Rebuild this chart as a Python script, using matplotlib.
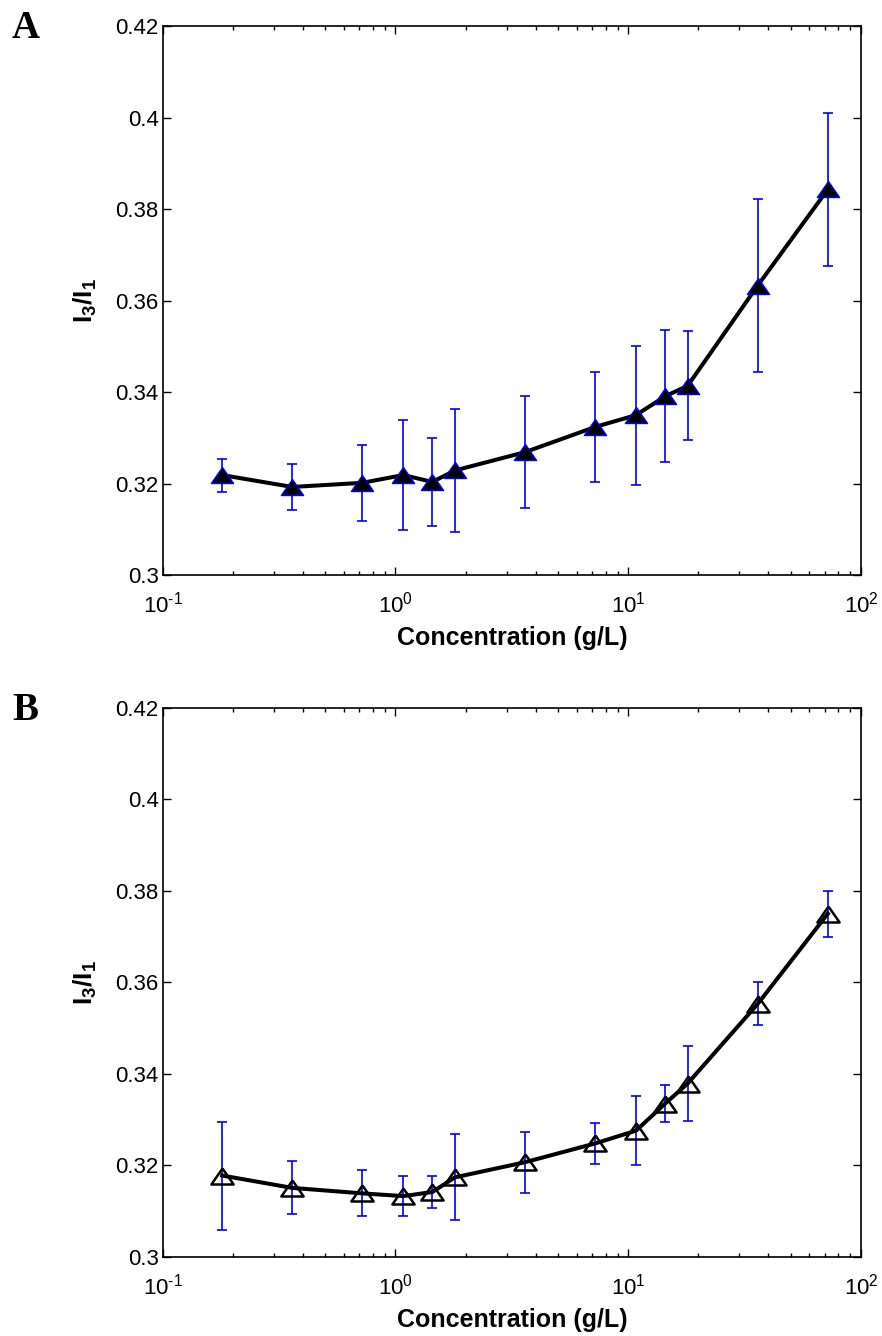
import math

import matplotlib
matplotlib.use("Agg")
import matplotlib.pyplot as plt
from matplotlib.ticker import LogLocator, NullFormatter, FuncFormatter

plt.rcParams["font.family"] = ["Liberation Sans", "DejaVu Sans"]
plt.rcParams["mathtext.fontset"] = "custom"
plt.rcParams["mathtext.rm"] = "Liberation Sans"
plt.rcParams["mathtext.bf"] = "Liberation Sans:bold"
plt.rcParams["axes.unicode_minus"] = False

# concentration (g/L)
conc = [0.18, 0.36, 0.72, 1.08, 1.44, 1.8, 3.6, 7.2, 10.8, 14.4, 18, 36, 72]

# panel A
ratio_a = [0.3219, 0.3193, 0.3202, 0.3219, 0.3204, 0.3229, 0.3269,
           0.3324, 0.3350, 0.3391, 0.3414, 0.3633, 0.3843]
err_a = [0.0036, 0.0050, 0.0083, 0.0121, 0.0097, 0.0134, 0.0123,
         0.0121, 0.0152, 0.0144, 0.0119, 0.0189, 0.0167]

# panel B
ratio_b = [0.3178, 0.3151, 0.3139, 0.3133, 0.3142, 0.3174, 0.3207,
           0.3248, 0.3276, 0.3335, 0.3379, 0.3553, 0.3750]
err_b = [0.0118, 0.0058, 0.0050, 0.0044, 0.0036, 0.0094, 0.0067,
         0.0044, 0.0075, 0.0040, 0.0081, 0.0047, 0.0050]

yticks = [0.30, 0.32, 0.34, 0.36, 0.38, 0.40, 0.42]
ytick_labels = ["0.3", "0.32", "0.34", "0.36", "0.38", "0.4", "0.42"]

W, H = 882, 1336
fig = plt.figure(figsize=(W / 100, H / 100), dpi=100)

left = 162.7 / W
width = (861 - 162.7) / W
ax_h = (575.3 - 26) / H
ax_a = fig.add_axes([left, 1 - 575.3 / H, width, ax_h])
ax_b = fig.add_axes([left, 1 - 1257 / H, width, ax_h])

# MATLAB-style triangle: wider than it is tall
TRI = [(0, 0.72), (-1, -0.72), (1, -0.72), (0, 0.72)]


def pow10(v, pos):
    p = round(math.log10(v))
    # plain hyphen in the exponent, like the original
    return r"$10^{%s}$" % (str(p).replace("-", "\u2010"))


def draw_panel(ax, y, e, face, edge, mew, letter, letter_y):
    ax.errorbar(conc, y, yerr=e, fmt="none", ecolor="#0000FF",
                elinewidth=1.2, capsize=3.8, capthick=1.2, zorder=2)
    ax.plot(conc, y, color="black", lw=2.9, zorder=3,
            solid_joinstyle="round")
    ax.plot(conc, y, linestyle="none", marker=TRI, markersize=16,
            markerfacecolor=face, markeredgecolor=edge,
            markeredgewidth=mew, zorder=4)

    ax.set_xscale("log")
    ax.set_xlim(0.1, 100)
    ax.set_ylim(0.3, 0.42)
    ax.set_yticks(yticks)
    ax.set_yticklabels(ytick_labels)
    ax.xaxis.set_major_locator(LogLocator(base=10, numticks=10))
    ax.xaxis.set_major_formatter(FuncFormatter(pow10))
    ax.xaxis.set_minor_locator(LogLocator(base=10, subs=range(2, 10), numticks=10))
    ax.xaxis.set_minor_formatter(NullFormatter())

    ax.tick_params(which="both", direction="in", top=True, right=True,
                   labelsize=16, width=1.0, colors="black")
    ax.tick_params(which="major", length=6)
    ax.tick_params(which="minor", length=3)
    ax.tick_params(axis="x", pad=12)
    ax.tick_params(axis="y", pad=3)
    for s in ax.spines.values():
        s.set_linewidth(1.2)

    ax.set_xlabel("Concentration (g/L)", fontsize=18, fontweight="bold",
                  labelpad=6)
    ax.set_ylabel(r"$\mathbf{I_3/I_1}$", fontsize=19, labelpad=12)

    fig.text(12 / W, letter_y, letter, fontsize=28, fontweight="bold",
             family="Liberation Serif", ha="left", va="top")


draw_panel(ax_a, ratio_a, err_a, "black", "#0000FF", 1.0, "A", 1 - 10 / H)
draw_panel(ax_b, ratio_b, err_b, "none", "black", 1.8, "B", 1 - 692 / H)

fig.savefig("out.png", dpi=100, facecolor="white")
